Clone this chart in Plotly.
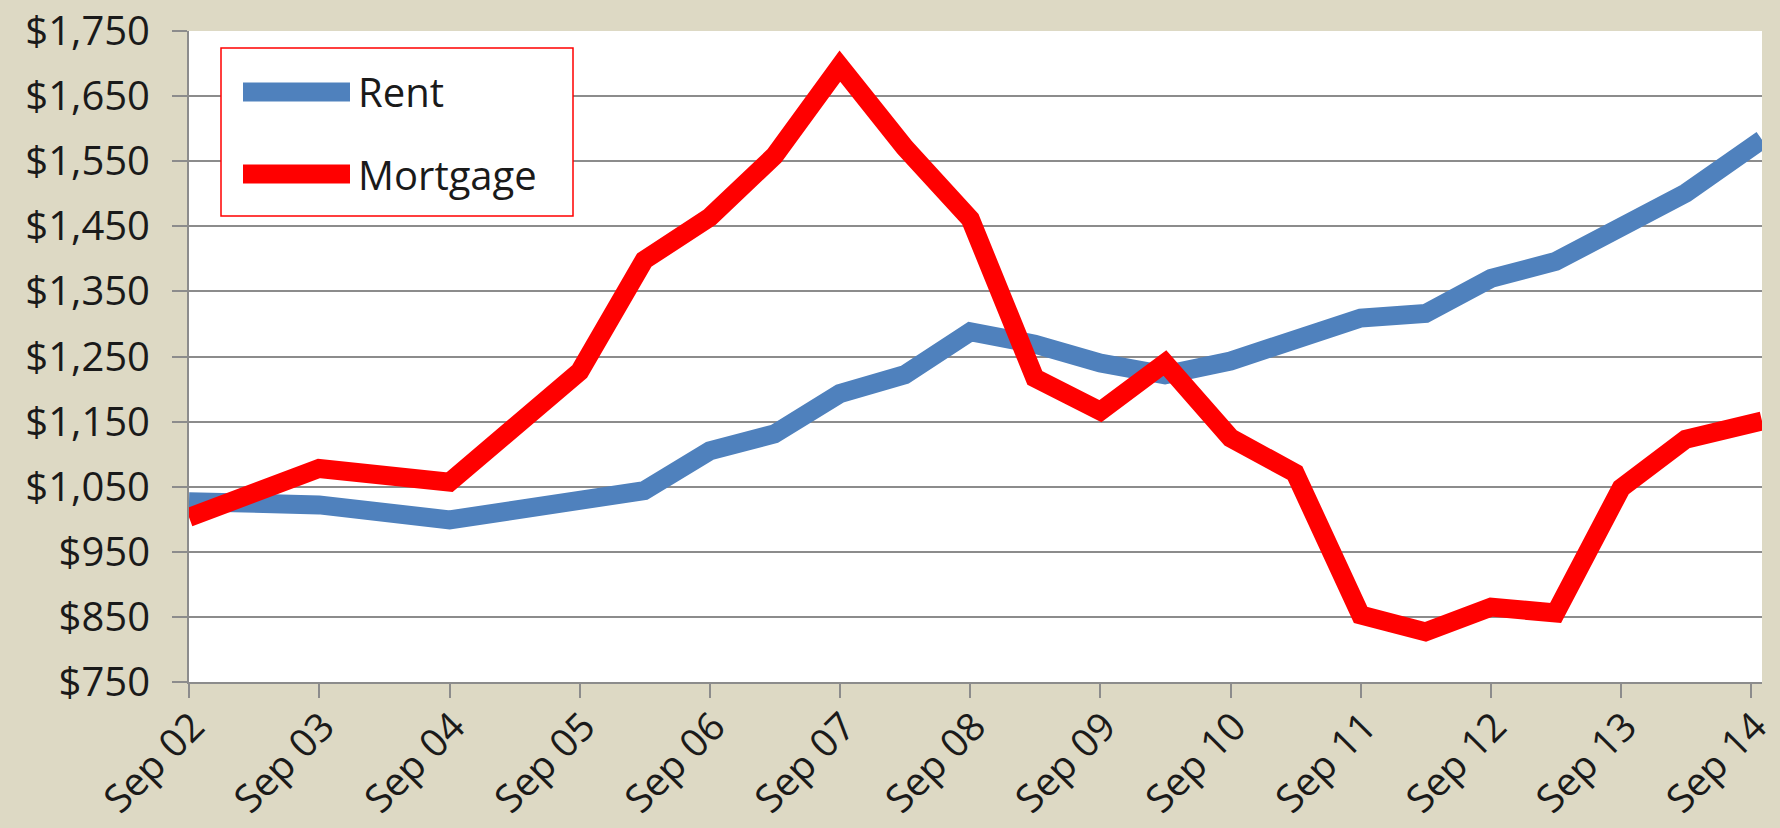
import plotly.graph_objects as go

# data (semiannual from Sep 05 on)
dates = [
    "2002-09-01", "2003-09-01", "2004-09-01", "2005-09-01", "2006-03-01",
    "2006-09-01", "2007-03-01", "2007-09-01", "2008-03-01", "2008-09-01",
    "2009-03-01", "2009-09-01", "2010-03-01", "2010-09-01", "2011-03-01",
    "2011-09-01", "2012-03-01", "2012-09-01", "2013-03-01", "2013-09-01",
    "2014-03-01", "2014-10-01",
]
rent = [
    1027, 1022, 999, 1027, 1044, 1105, 1131, 1193, 1222, 1288,
    1269, 1240, 1222, 1243, 1278, 1309, 1316, 1370, 1396, 1449,
    1501, 1583,
]
mortgage = [
    1003, 1078, 1057, 1227, 1398, 1464, 1558, 1696, 1571, 1461,
    1217, 1166, 1240, 1125, 1071, 853, 827, 865, 856, 1048,
    1123, 1151,
]
tick_dates = [f"{y}-09-01" for y in range(2002, 2015)]
tick_text = [f"Sep {y % 100:02d}" for y in range(2002, 2015)]

BG = "#DDD9C4"
GRID = "#8C8C8C"
FONT = "Open Sans"
FSIZE = 40

W, H = 1780, 828
L, R, T, B = 189, 18, 31, 146

fig = go.Figure()
fig.add_trace(go.Scatter(x=dates, y=rent, mode="lines", name="Rent",
                         line=dict(color="#4F81BD", width=19)))
fig.add_trace(go.Scatter(x=dates, y=mortgage, mode="lines", name="Mortgage",
                         line=dict(color="#FF0000", width=19)))

fig.update_layout(
    width=W, height=H,
    paper_bgcolor=BG, plot_bgcolor="white",
    margin=dict(l=L, r=R, t=T, b=B),
    showlegend=False,
    font=dict(family=FONT, size=FSIZE, color="#1a1a1a"),
)
fig.update_xaxes(
    type="date", range=["2002-09-01", "2014-10-01"],
    tickmode="array", tickvals=tick_dates, ticktext=tick_text,
    tickangle=-45, ticks="outside", ticklen=14, tickcolor=GRID, tickwidth=2,
    tickfont=dict(size=39),
    ticklabelstandoff=-10, ticklabelshift=4, ticklabeloverflow="allow",
    showgrid=False, showline=True, linecolor=GRID, linewidth=2,
    zeroline=False, automargin=False,
)
fig.update_yaxes(
    range=[750, 1750], tick0=750, dtick=100,
    tickprefix="$", tickformat=",",
    ticks="outside", ticklen=15, tickcolor=GRID, tickwidth=2,
    ticklabelstandoff=14,
    showgrid=True, gridcolor=GRID, gridwidth=2,
    showline=True, linecolor=GRID, linewidth=2, zeroline=False,
    automargin=False,
)


# legend box drawn by hand to get Excel's long line samples
def fx(x):
    return (x - L) / (W - L - R)


def fy(y):
    return (H - B - y) / (H - T - B)


fig.add_shape(type="rect", xref="paper", yref="paper",
              x0=fx(221), x1=fx(573), y0=fy(216), y1=fy(48),
              line=dict(color="#FF0000", width=1.5), fillcolor="white", layer="above")
for label, color, yc in [("Rent", "#4F81BD", 92), ("Mortgage", "#FF0000", 174)]:
    fig.add_shape(type="line", xref="paper", yref="paper",
                  x0=fx(243), x1=fx(350), y0=fy(yc), y1=fy(yc),
                  line=dict(color=color, width=19), layer="above")
    fig.add_annotation(xref="paper", yref="paper", x=fx(356), y=fy(yc),
                       text=label, showarrow=False, xanchor="left", yanchor="middle",
                       font=dict(family=FONT, size=FSIZE, color="#1a1a1a"))

fig.write_html("out.html", config={"displayModeBar": False},
               post_script="document.body.style.margin='0';")
